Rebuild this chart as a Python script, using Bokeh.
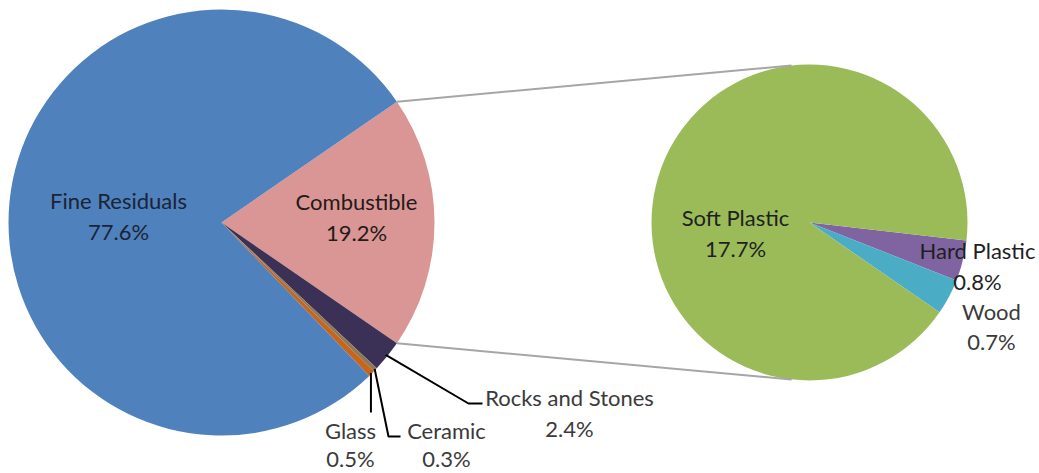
import numpy as np
from bokeh.plotting import figure
from bokeh.models import Range1d
from bokeh.core.properties import value
from bokeh.embed import file_html
from bokeh.resources import INLINE

# ---------------- data ----------------
main_labels = ["Combustible", "Rocks and Stones", "Ceramic", "Glass", "Fine Residuals"]
main_values = [19.2, 2.4, 0.3, 0.5, 77.6]
sub_labels = ["Hard Plastic", "Wood", "Soft Plastic"]
sub_values = [0.8, 0.7, 17.7]

# ---------------- style ----------------
main_colors = ["#D99694", "#3B3157", "#8A7A58", "#C8641E", "#4F81BD"]
sub_colors = ["#8064A2", "#4BACC6", "#9BBB59"]
W, H = 1039, 473
FONT = "Lato"
FS = "22px"

def Y(ypix):
    return H - ypix

C1 = (221, 222); R1 = 213
C2 = (809, 222); R2 = 158
SUB_START = np.deg2rad(-6.5)

p = figure(width=W, height=H, output_backend="svg", toolbar_location=None,
           x_range=Range1d(0, W), y_range=Range1d(0, H),
           x_axis_type=None, y_axis_type=None, min_border=0)
p.grid.visible = False
p.outline_line_color = None
p.background_fill_color = "white"
p.border_fill_color = "white"

# main pie: "other" (combustible) centred at 3 o'clock, then clockwise
mv = np.array(main_values)
mth = mv / mv.sum() * 2 * np.pi
top = mth[0] / 2
ends = top - np.concatenate([[0], np.cumsum(mth)[:-1]])
starts = ends - mth
p.wedge(x=C1[0], y=Y(C1[1]), radius=R1, start_angle=starts, end_angle=ends,
        fill_color=main_colors, line_color=None)
main_mid = (starts + ends) / 2

# sub pie
sv = np.array(sub_values)
sth = sv / sv.sum() * 2 * np.pi
s_ends = SUB_START - np.concatenate([[0], np.cumsum(sth)[:-1]])
s_starts = s_ends - sth
p.wedge(x=C2[0], y=Y(C2[1]), radius=R2, start_angle=s_starts, end_angle=s_ends,
        fill_color=sub_colors, line_color=None)

# connector lines
a_top, a_bot = ends[0], starts[0]
b_top, b_bot = np.deg2rad(96.5), np.deg2rad(-96.5)
for a, b in [(a_top, b_top), (a_bot, b_bot)]:
    p.line([C1[0] + R1 * np.cos(a), C2[0] + R2 * np.cos(b)],
           [Y(C1[1]) + R1 * np.sin(a), Y(C2[1]) + R2 * np.sin(b)],
           line_color="#A6A6A6", line_width=2)

# leader lines for small slices
def edge(i, r=R1):
    return C1[0] + r * np.cos(main_mid[i]), Y(C1[1]) + r * np.sin(main_mid[i])

x0, y0 = edge(1, R1 - 2)
p.line([x0, 468, 482], [y0, Y(403), Y(403)], line_color="black", line_width=2)
x0, y0 = edge(2, R1 - 1)
p.line([x0, 388, 400], [y0, Y(436), Y(436)], line_color="black", line_width=2)
x0, y0 = edge(3, R1 - 1)
p.line([x0, x0], [y0, Y(412)], line_color="black", line_width=2)

# labels (name row, percent row) - pixel positions
label_pos = {
    "Fine Residuals": (118, 200, 231, "#1A2436"),
    "Combustible": (356, 201, 232, "#241A1A"),
    "Rocks and Stones": (569, 397, 428, "#3A3A3A"),
    "Ceramic": (446, 430, 458, "#3A3A3A"),
    "Glass": (350, 430, 458, "#3A3A3A"),
    "Soft Plastic": (735, 217, 248, "#1F1F1F"),
    "Hard Plastic": (977, 250, 281, "#1F1F1F"),
    "Wood": (991, 311, 341, "#3A3A3A"),
}
names = main_labels + sub_labels
vals = main_values + sub_values
for n, v in zip(names, vals):
    x, y1, y2, col = label_pos[n]
    p.text(x=[x, x], y=[Y(y1), Y(y2)], text=[n, f"{v:.1f}%"],
           text_font=value(FONT), text_font_size=FS, text_color=col,
           text_align="center", text_baseline="middle")

open("out.html", "w").write(file_html(p, INLINE))
